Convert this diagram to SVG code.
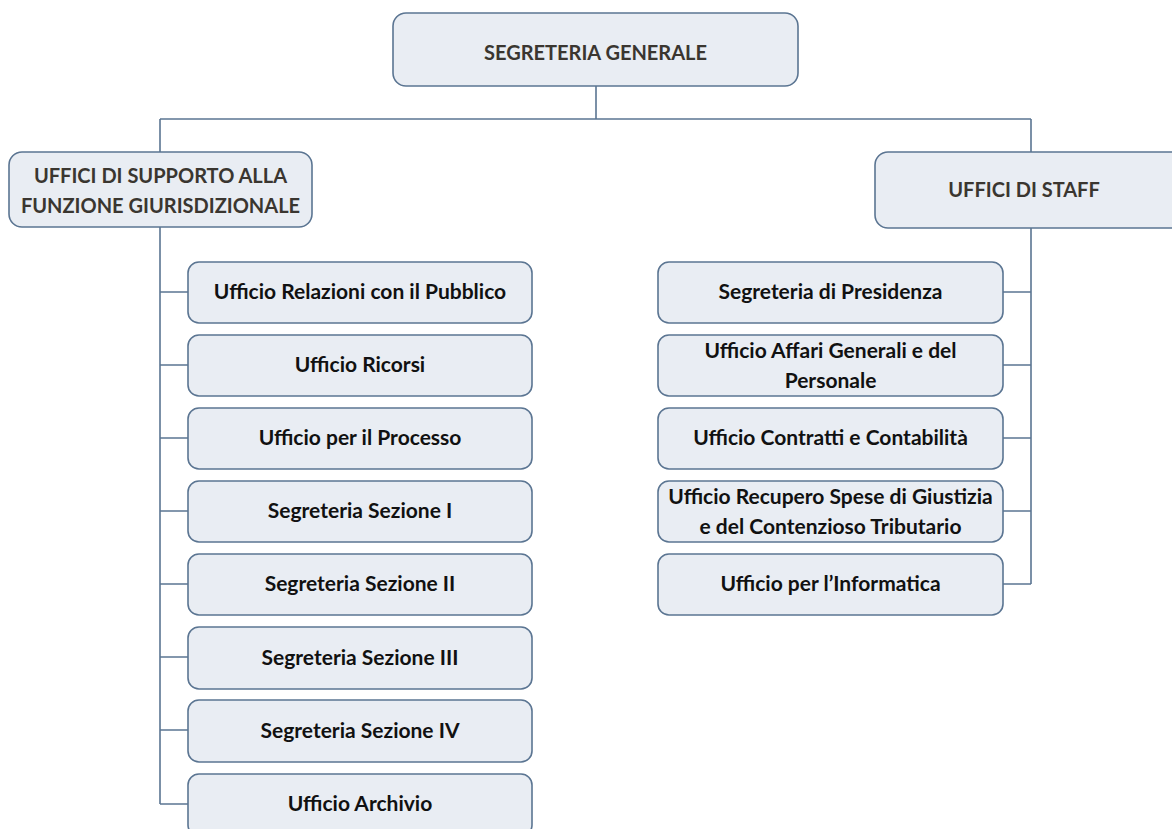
<svg xmlns="http://www.w3.org/2000/svg" width="1172" height="829" viewBox="0 0 1172 829">
<style>
.box{fill:#e9edf3;stroke:#5b7592;stroke-width:1.6}
.ln{fill:none;stroke:#5b7592;stroke-width:1.6}
.hd{font-family:Lato,"Open Sans","Liberation Sans",sans-serif;font-weight:bold;font-size:20px;fill:#3a3630;text-anchor:middle}
.tx{font-family:Lato,"Open Sans","Liberation Sans",sans-serif;font-weight:bold;font-size:21px;fill:#111111;text-anchor:middle}
</style>
<rect width="1172" height="829" fill="#ffffff"/>
<g id="connectors">
<path class="ln" d="M596 86V119M160 119H1031M160 119V152M1031 119V152"/>
<path class="ln" d="M160 227V804M160 292H188M160 365H188M160 438H188M160 511H188M160 584H188M160 657H188M160 730H188M160 804H188"/>
<path class="ln" d="M1031 228V584M1003 292H1031M1003 365H1031M1003 438H1031M1003 511H1031M1003 584H1031"/>
</g>
<g id="n-segreteria-generale"><rect class="box" x="393" y="13" width="405" height="73" rx="13"/><text class="hd" x="595.5" y="60">SEGRETERIA GENERALE</text></g>
<g id="n-supporto"><rect class="box" x="9" y="152" width="303" height="75" rx="13"/><text class="hd" x="160.5" y="183">UFFICI DI SUPPORTO ALLA</text><text class="hd" x="160.5" y="213">FUNZIONE GIURISDIZIONALE</text></g>
<g id="n-staff"><rect class="box" x="875" y="152" width="310" height="76" rx="13"/><text class="hd" x="1024" y="197">UFFICI DI STAFF</text></g>
<g id="n-urp"><rect class="box" x="188" y="262" width="344" height="61" rx="11"/><text class="tx" x="360" y="299">Ufficio Relazioni con il Pubblico</text></g>
<g id="n-ricorsi"><rect class="box" x="188" y="335" width="344" height="61" rx="11"/><text class="tx" x="360" y="372">Ufficio Ricorsi</text></g>
<g id="n-processo"><rect class="box" x="188" y="408" width="344" height="61" rx="11"/><text class="tx" x="360" y="445">Ufficio per il Processo</text></g>
<g id="n-sez1"><rect class="box" x="188" y="481" width="344" height="61" rx="11"/><text class="tx" x="360" y="518">Segreteria Sezione I</text></g>
<g id="n-sez2"><rect class="box" x="188" y="554" width="344" height="61" rx="11"/><text class="tx" x="360" y="591">Segreteria Sezione II</text></g>
<g id="n-sez3"><rect class="box" x="188" y="627" width="344" height="62" rx="11"/><text class="tx" x="360" y="665">Segreteria Sezione III</text></g>
<g id="n-sez4"><rect class="box" x="188" y="700" width="344" height="62" rx="11"/><text class="tx" x="360" y="738">Segreteria Sezione IV</text></g>
<g id="n-archivio"><rect class="box" x="188" y="774" width="344" height="62" rx="11"/><text class="tx" x="360" y="811">Ufficio Archivio</text></g>
<g id="n-presidenza"><rect class="box" x="658" y="262" width="345" height="61" rx="11"/><text class="tx" x="830.5" y="299">Segreteria di Presidenza</text></g>
<g id="n-affari"><rect class="box" x="658" y="335" width="345" height="61" rx="11"/><text class="tx" x="830.5" y="358">Ufficio Affari Generali e del</text><text class="tx" x="830.5" y="388">Personale</text></g>
<g id="n-contratti"><rect class="box" x="658" y="408" width="345" height="61" rx="11"/><text class="tx" x="830.5" y="445">Ufficio Contratti e Contabilità</text></g>
<g id="n-recupero"><rect class="box" x="658" y="481" width="345" height="61" rx="11"/><text class="tx" x="830.5" y="504">Ufficio Recupero Spese di Giustizia</text><text class="tx" x="830.5" y="534">e del Contenzioso Tributario</text></g>
<g id="n-informatica"><rect class="box" x="658" y="554" width="345" height="61" rx="11"/><text class="tx" x="830.5" y="591">Ufficio per l’Informatica</text></g>
</svg>
